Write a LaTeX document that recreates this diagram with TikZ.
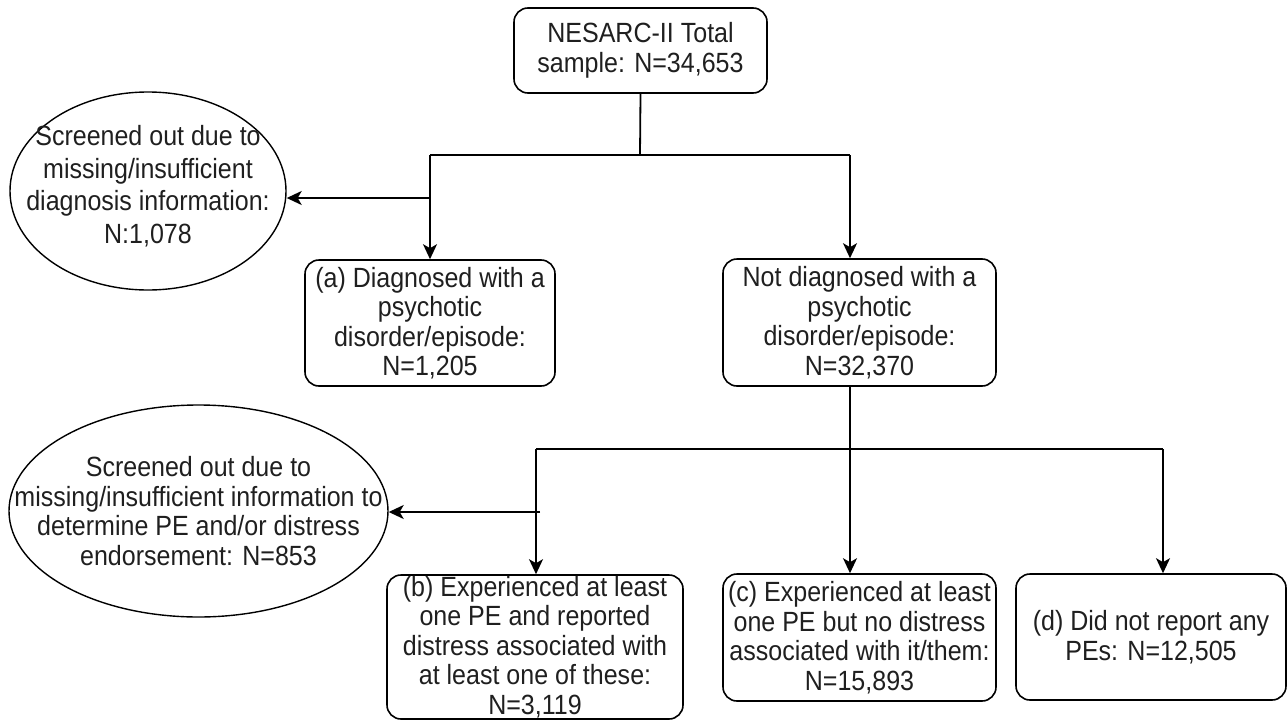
\documentclass[tikz,border=0pt]{standalone}
\usepackage{fontspec}
\setmainfont{Liberation Sans}
\newfontfamily\tallsans[FakeStretch=0.9]{Liberation Sans}
\usetikzlibrary{shapes.geometric,arrows.meta}
\begin{document}
\begin{tikzpicture}[x=1pt,y=-1pt,
  txt/.style={align=center, inner sep=0pt, text=black!88, font=\tallsans\fontsize{27.8}{29.5}\selectfont},
  box/.style={txt, draw, line width=1.6pt, rounded corners=14pt},
  oval/.style={draw, ellipse, inner sep=0pt, line width=1.4pt},
  conn/.style={line width=1.8pt},
  arr/.style={conn, -{Stealth[length=15pt,width=14pt,inset=4pt]}}]
\useasboundingbox (0,0) rectangle (1287,720);

\node[box, minimum width=253pt, minimum height=85pt] (top) at (640.5,50.5) {NESARC-II Total\\sample: N=34,653};
\node[box, minimum width=250pt, minimum height=126pt] (a) at (430,323) {(a) Diagnosed with a\\psychotic\\disorder/episode:\\N=1,205};
\node[box, minimum width=273pt, minimum height=127pt] (nd) at (859.5,322.5) {Not diagnosed with a\\psychotic\\disorder/episode:\\N=32,370};
\node[box, minimum width=296pt, minimum height=144pt] (b) at (535,647) {(b) Experienced at least\\one PE and reported\\distress associated with\\at least one of these:\\N=3,119};
\node[box, minimum width=273pt, minimum height=127pt] (c) at (859.5,637.5) {(c) Experienced at least\\one PE but no distress\\associated with it/them:\\N=15,893};
\node[box, minimum width=270pt, minimum height=126pt] (d) at (1151,637) {(d) Did not report any\\PEs: N=12,505};

\node[oval, minimum width=276pt, minimum height=198pt,
  label={[txt, font=\tallsans\fontsize{27.8}{32.5}\selectfont, yshift=5pt]center:{Screened out due to\\missing/insufficient\\diagnosis information:\\N:1,078}}] (e1) at (148,191) {};
\node[oval, minimum width=379pt, minimum height=212pt,
  label={[txt]center:{Screened out due to\\missing/insufficient information to\\determine PE and/or distress\\endorsement: N=853}}] (e2) at (198.5,511) {};

\coordinate (j1) at (640,155);
\coordinate (la) at (430,155);
\coordinate (rn) at (850,155);
\coordinate (s1) at (430,198);
\draw[conn] (top.south) -- (j1);
\draw[conn] (la) -- (rn);
\draw[arr] (la) -- (a.north);
\draw[arr] (rn) -- (rn |- nd.north);
\draw[arr] (s1) -- (s1 -| e1.east);

\coordinate (j2) at (850,449);
\coordinate (lb) at (536,449);
\coordinate (rd) at (1163,449);
\coordinate (s2) at (540,512);
\draw[conn] (j2 |- nd.south) -- (j2);
\draw[conn] (lb) -- (rd);
\draw[arr] (lb) -- (lb |- b.north);
\draw[arr] (j2) -- (j2 |- c.north);
\draw[arr] (rd) -- (rd |- d.north);
\draw[arr] (s2) -- (s2 -| e2.east);
\end{tikzpicture}
\end{document}
